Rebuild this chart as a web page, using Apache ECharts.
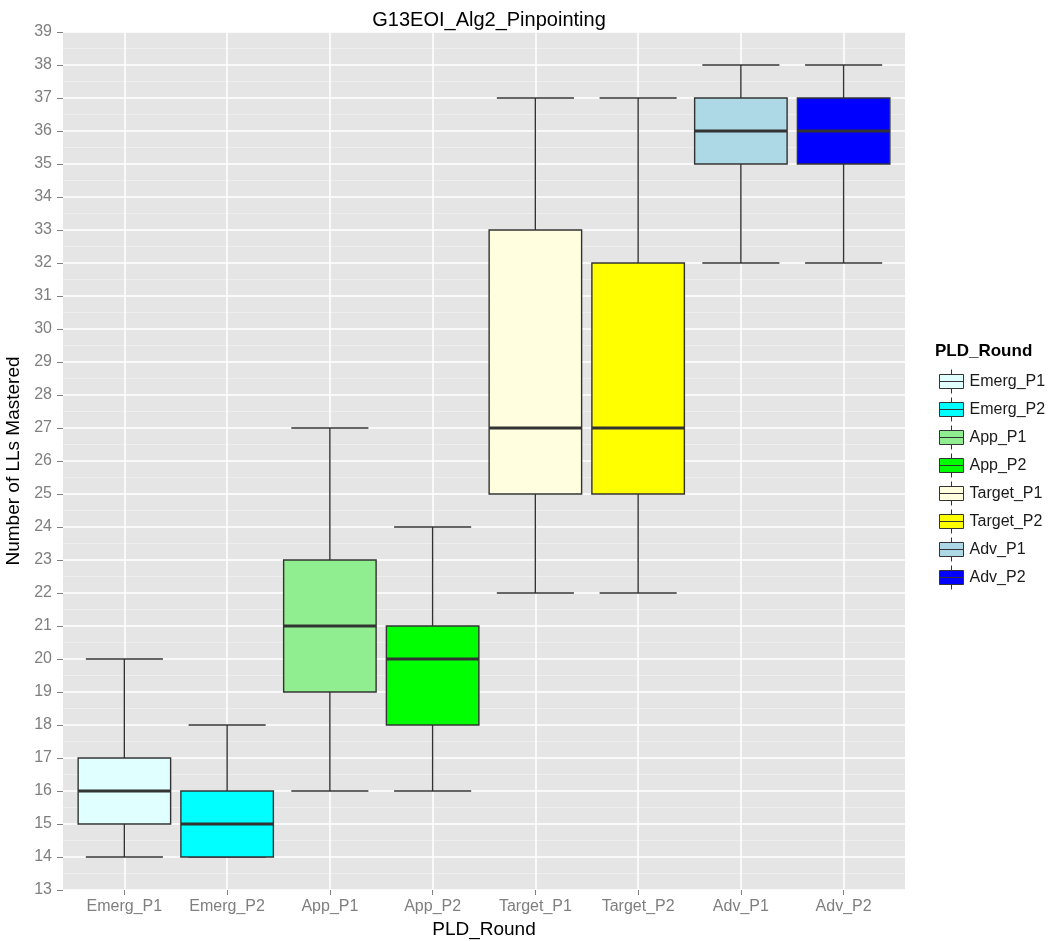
<!DOCTYPE html>
<html>
<head>
<meta charset="utf-8">
<script src="https://cdn.jsdelivr.net/npm/echarts@6/dist/echarts.min.js"></script>
<style>
  html, body { margin: 0; padding: 0; background: #fff; }
  #chart { width: 1055px; height: 941px; }
</style>
</head>
<body>
<div id="chart"></div>
<script>
// boxplot stats
var categories = ["Emerg_P1", "Emerg_P2", "App_P1", "App_P2", "Target_P1", "Target_P2", "Adv_P1", "Adv_P2"];
var mins    = [14, 14, 16, 16, 22, 22, 32, 32];
var q1s     = [15, 14, 19, 18, 25, 25, 35, 35];
var medians = [16, 15, 21, 20, 27, 27, 36, 36];
var q3s     = [17, 16, 23, 21, 33, 32, 37, 37];
var maxs    = [20, 18, 27, 24, 37, 37, 38, 38];
var colors  = ["#E0FFFF", "#00FFFF", "#90EE90", "#00FF00", "#FFFFE0", "#FFFF00", "#ADD8E6", "#0000FF"];

var FONT = "Liberation Sans, Arial, sans-serif";
var GREY = "#7F7F7F";

function renderBox(params, api) {
  var i = api.value(0);
  var lo = api.coord([i, api.value(1)]);
  var q1 = api.coord([i, api.value(2)]);
  var md = api.coord([i, api.value(3)]);
  var q3 = api.coord([i, api.value(4)]);
  var hi = api.coord([i, api.value(5)]);
  var bw = api.size([1, 0])[0];
  var cx = lo[0];
  var hb = bw * 0.45, hc = bw * 0.375;
  var ln = { stroke: "#333", lineWidth: 1.4 };
  return {
    type: "group",
    children: [
      { type: "line", shape: { x1: cx, y1: hi[1], x2: cx, y2: q3[1] }, style: ln },
      { type: "line", shape: { x1: cx, y1: q1[1], x2: cx, y2: lo[1] }, style: ln },
      { type: "line", shape: { x1: cx - hc, y1: hi[1], x2: cx + hc, y2: hi[1] }, style: ln },
      { type: "line", shape: { x1: cx - hc, y1: lo[1], x2: cx + hc, y2: lo[1] }, style: ln },
      {
        type: "rect",
        shape: { x: cx - hb, y: q3[1], width: hb * 2, height: q1[1] - q3[1] },
        style: { fill: api.visual("color"), stroke: "#333", lineWidth: 1.4 }
      },
      { type: "line", shape: { x1: cx - hb, y1: md[1], x2: cx + hb, y2: md[1] }, style: { stroke: "#333", lineWidth: 3 } }
    ]
  };
}

var series = categories.map(function (name, i) {
  return {
    name: name,
    type: "custom",
    xAxisIndex: 1,
    yAxisIndex: 1,
    renderItem: renderBox,
    itemStyle: { color: colors[i] },
    encode: { x: 0, y: [1, 2, 3, 4, 5] },
    data: [[i, mins[i], q1s[i], medians[i], q3s[i], maxs[i]]]
  };
});

var chart = echarts.init(document.getElementById("chart"));
chart.setOption({
  animation: false,
  textStyle: { fontFamily: FONT },
  title: [
    {
      text: "G13EOI_Alg2_Pinpointing",
      left: 484,
      textAlign: "center",
      top: 5,
      textStyle: { fontFamily: FONT, fontSize: 20, fontWeight: "normal", color: "#000" }
    },
    {
      text: "PLD_Round",
      left: 930,
      top: 338,
      textStyle: { fontFamily: FONT, fontSize: 17, fontWeight: "bold", color: "#000" }
    }
  ],
  legend: {
    orient: "vertical",
    left: 934,
    top: 364,
    itemWidth: 26,
    itemHeight: 24,
    itemGap: 3,
    icon: "path://M1,5 H25 V19 H1 Z M1,12 H25 M13,0 V5 M13,19 V24",
    itemStyle: { borderColor: "#333", borderWidth: 1 },
    textStyle: { fontFamily: FONT, fontSize: 16, color: "#1a1a1a" },
    data: categories
  },
  grid: [
    { left: 63, right: 150, top: 32, bottom: 51, show: true, backgroundColor: "#E5E5E5", borderWidth: 0, outerBoundsMode: "none", containLabel: false },
    { left: 73, right: 160, top: 32, bottom: 51, outerBoundsMode: "none", containLabel: false }
  ],
  xAxis: [
    { type: "value", gridIndex: 0, show: false, min: 0, max: 1 },
    {
      type: "category",
      gridIndex: 1,
      data: categories,
      name: "PLD_Round",
      nameLocation: "middle",
      nameGap: 29,
      nameTextStyle: { fontFamily: FONT, fontSize: 19, color: "#000" },
      axisLine: { show: false },
      axisTick: { show: true, alignWithLabel: true, length: 5, lineStyle: { color: GREY } },
      axisLabel: { color: GREY, fontSize: 16, margin: 9 },
      splitLine: { show: true, alignWithLabel: true, lineStyle: { color: "#fff", width: 1.5 } }
    }
  ],
  yAxis: [
    {
      type: "value",
      gridIndex: 0,
      min: 13,
      max: 39,
      interval: 1,
      name: "Number of LLs Mastered",
      nameLocation: "middle",
      nameGap: 36,
      nameTextStyle: { fontFamily: FONT, fontSize: 19, color: "#000" },
      axisLine: { show: false },
      axisTick: { show: true, length: 6, lineStyle: { color: GREY } },
      axisLabel: { color: GREY, fontSize: 16, margin: 11 },
      splitLine: { show: true, lineStyle: { color: "#fff", width: 1.5 } },
      minorTick: { show: false, splitNumber: 2 },
      minorSplitLine: { show: true, lineStyle: { color: "#F0F0F0", width: 0.8 } }
    },
    { type: "value", gridIndex: 1, min: 13, max: 39, show: false }
  ],
  series: series
});
</script>
</body>
</html>
